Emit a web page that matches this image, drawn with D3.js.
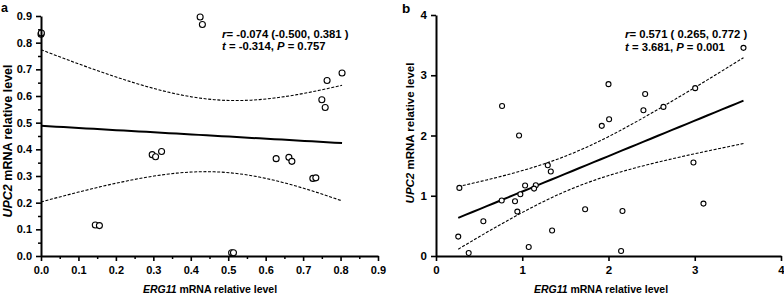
<!DOCTYPE html>
<html><head><meta charset="utf-8">
<script src="https://cdn.jsdelivr.net/npm/d3@7"></script>
<style>
body{margin:0;background:#fff;}
svg{display:block;font-family:"Liberation Sans",Arial,sans-serif;font-weight:bold;}
</style></head>
<body><svg id="c" width="784" height="298"></svg>
<script>
// Panel a data: ERG11 (x) vs UPC2 (y)
const aX = [0.000,0.001,0.425,0.431,0.764,0.804,0.750,0.759,0.297,0.306,0.322,0.628,0.662,0.670,0.726,0.734,0.145,0.156,0.509,0.514];
const aY = [0.832,0.836,0.896,0.868,0.658,0.686,0.586,0.557,0.380,0.372,0.392,0.365,0.370,0.355,0.291,0.293,0.116,0.114,0.012,0.012];
// Panel b data
const bX = [3.565,2.000,2.425,3.005,0.766,2.405,2.637,2.007,1.922,0.963,1.296,1.331,2.985,0.271,1.033,1.157,1.137,0.978,0.762,0.916,0.943,1.729,2.162,3.101,0.549,1.346,0.258,0.379,1.075,2.146];
const bY = [3.455,2.852,2.690,2.786,2.490,2.420,2.475,2.270,2.160,2.000,1.507,1.402,1.551,1.130,1.169,1.174,1.119,1.025,0.920,0.909,0.737,0.776,0.748,0.870,0.576,0.422,0.322,0.050,0.150,0.083];
const aTicksX = [0,0.1,0.2,0.3,0.4,0.5,0.6,0.7,0.8,0.9];
const aTicksY = [0,0.1,0.2,0.3,0.4,0.5,0.6,0.7,0.8,0.9];
const bTicks = [0,1,2,3,4];
const aStats = ["-0.074 (-0.500, 0.381 )", "-0.314", "0.757"];
const bStats = ["0.571 ( 0.265, 0.772 )", "3.681", "0.001"];
const tCrit = {a:2.101, b:2.048};

const svg = d3.select("#c");

function fitBand(xs, ys, tc){
  const n = xs.length, mx = d3.mean(xs), my = d3.mean(ys);
  let sxx=0, sxy=0;
  xs.forEach((x,i)=>{sxx+=(x-mx)**2; sxy+=(x-mx)*(ys[i]-my);});
  const b = sxy/sxx, a0 = my - b*mx;
  let sse=0; xs.forEach((x,i)=>{sse+=(ys[i]-a0-b*x)**2;});
  const s = Math.sqrt(sse/(n-2));
  const [lo,hi] = d3.extent(xs);
  const pts = d3.range(0,41).map(k=>{
    const x = lo + (hi-lo)*k/40;
    const yh = a0 + b*x;
    const h = tc*s*Math.sqrt(1/n + (x-mx)**2/sxx);
    return {x, y:yh, u:yh+h, l:yh-h};
  });
  return pts;
}

function panel(cfg){
  const g = svg.append("g");
  const x = d3.scaleLinear().domain(cfg.xd).range(cfg.xr);
  const y = d3.scaleLinear().domain(cfg.yd).range(cfg.yr);
  const pts = fitBand(cfg.xs, cfg.ys, cfg.tc);
  const line = k => d3.line().x(d=>x(d.x)).y(d=>y(d[k]));
  g.append("path").datum(pts).attr("d", line("u")).attr("fill","none").attr("stroke","#000").attr("stroke-width",1.1).attr("stroke-dasharray","3,1.6");
  g.append("path").datum(pts).attr("d", line("l")).attr("fill","none").attr("stroke","#000").attr("stroke-width",1.1).attr("stroke-dasharray","3,1.6");
  g.append("path").datum(pts).attr("d", line("y")).attr("fill","none").attr("stroke","#000").attr("stroke-width",2);
  g.selectAll("circle.p").data(cfg.xs.map((v,i)=>[v,cfg.ys[i]])).join("circle")
    .attr("cx",d=>x(d[0])).attr("cy",d=>y(d[1])).attr("r",cfg.r)
    .attr("fill","#fff").attr("stroke","#000").attr("stroke-width",1.1);
  // axes
  if(cfg.minor){
    const mx = d3.range(1,cfg.xt.length*2-1,2).map(i=>i*(cfg.xt[1]-cfg.xt[0])/2);
    const my = d3.range(1,cfg.yt.length*2-1,2).map(i=>i*(cfg.yt[1]-cfg.yt[0])/2);
    g.append("g").attr("transform",`translate(0,${cfg.yr[0]})`).call(d3.axisBottom(x).tickValues(mx).tickSize(3).tickFormat(""))
      .call(s=>{s.select(".domain").remove(); s.selectAll("line").attr("stroke-width",1.5);});
    g.append("g").attr("transform",`translate(${cfg.xr[0]},0)`).call(d3.axisLeft(y).tickValues(my).tickSize(3).tickFormat(""))
      .call(s=>{s.select(".domain").remove(); s.selectAll("line").attr("stroke-width",1.5);});
  }
  const ax = g.append("g").attr("transform",`translate(0,${cfg.yr[0]})`)
    .call(d3.axisBottom(x).tickValues(cfg.xt).tickSize(5).tickSizeOuter(0).tickPadding(5).tickFormat(cfg.fmt));
  const ay = g.append("g").attr("transform",`translate(${cfg.xr[0]},0)`)
    .call(d3.axisLeft(y).tickValues(cfg.yt).tickSize(5).tickSizeOuter(0).tickPadding(4).tickFormat(cfg.fmt));
  [ax,ay].forEach(a=>{
    a.attr("font-family",null).attr("font-size",null);
    a.select(".domain").attr("stroke-width",2);
    a.selectAll(".tick line").attr("stroke-width",1.6);
    a.selectAll("text").attr("font-size",cfg.tfs).attr("font-weight","bold").attr("font-family","Liberation Sans, Arial, sans-serif").attr("fill","#000");
  });
  // x title
  const xt = g.append("text").attr("x",cfg.xtx).attr("y",293).attr("text-anchor","middle").attr("font-size",10.5);
  xt.append("tspan").attr("font-style","italic").text("ERG11");
  xt.append("tspan").text(" mRNA relative level");
  const yt = g.append("text").attr("transform",`translate(${cfg.ytx},${cfg.yty}) rotate(-90)`).attr("text-anchor","middle").attr("font-size",cfg.ytfs);
  yt.append("tspan").attr("font-style","italic").text("UPC2");
  yt.append("tspan").text(" mRNA relative level");
  // stats
  const s1 = g.append("text").attr("x",cfg.sx).attr("y",cfg.sy1).attr("font-size",11.3);
  s1.append("tspan").attr("font-style","italic").text("r");
  s1.append("tspan").text("= "+cfg.stats[0]);
  const s2 = g.append("text").attr("x",cfg.sx).attr("y",cfg.sy2).attr("font-size",11.3);
  s2.append("tspan").attr("font-style","italic").text("t");
  s2.append("tspan").text(" = "+cfg.stats[1]+", ");
  s2.append("tspan").attr("font-style","italic").text("P");
  s2.append("tspan").text(" = "+cfg.stats[2]);
  g.append("text").attr("x",cfg.lx).attr("y",cfg.ly).attr("font-size",cfg.lfs).text(cfg.label);
}

panel({xs:aX, ys:aY, tc:tCrit.a, xd:[0,0.9], xr:[41,378], yd:[0,0.9], yr:[256,16],
  xt:aTicksX, yt:aTicksY, fmt:d3.format(".1f"), minor:true, r:3, tfs:11,
  xtx:210, ytx:12, yty:141, ytfs:12.5, sx:222, sy1:37.5, sy2:49.5, stats:aStats, label:"a", lx:1, ly:12, lfs:12.5});
panel({xs:bX, ys:bY, tc:tCrit.b, xd:[0,4], xr:[436,781], yd:[0,4], yr:[256,15],
  xt:bTicks, yt:bTicks, fmt:d3.format("d"), minor:false, r:2.5, tfs:11.5,
  xtx:601, ytx:414, yty:133, ytfs:11.5, sx:625, sy1:37.5, sy2:51, stats:bStats, label:"b", lx:402, ly:13, lfs:13.5});
</script></body></html>
